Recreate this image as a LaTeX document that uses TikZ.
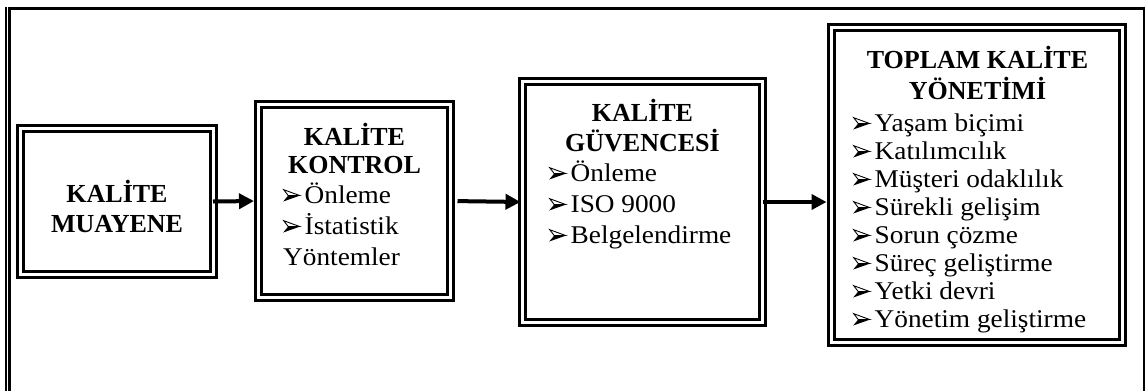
\documentclass[tikz,border=0pt]{standalone}
\usepackage{fontspec}
\setmainfont{Liberation Serif}
\newfontfamily\bodyfont[FakeStretch=1.07]{Liberation Serif}
\usetikzlibrary{arrows.meta}

% arrow-head list marker: outlined upper half, solid lower half
\newsavebox\arrowbullet
\newcommand{\pointer}{\raisebox{1.5pt}{\usebox\arrowbullet}\hspace{4.5pt}}

\tikzset{
  stage/.style={draw, line width=3pt, double, double distance=3pt,
    inner sep=0pt, outer sep=0pt},
  heading/.style={anchor=base, inner sep=0pt},
  items/.style={anchor=base west, inner sep=0pt},
  flow/.style={line width=4pt, -{Triangle[length=15pt,width=15pt]}},
  frame/.style={line cap=butt}
}

\begin{document}
\sbox\arrowbullet{\begin{pgfpicture}
  \pgfsetmiterjoin
  \pgfpathmoveto{\pgfpoint{0pt}{0pt}}
  \pgfpathlineto{\pgfpoint{17pt}{6pt}}
  \pgfpathlineto{\pgfpoint{5pt}{6pt}}
  \pgfpathclose
  \pgfusepath{fill}
  \pgfsetlinewidth{0.9pt}
  \pgfpathmoveto{\pgfpoint{0.5pt}{11.8pt}}
  \pgfpathlineto{\pgfpoint{16.4pt}{6pt}}
  \pgfpathlineto{\pgfpoint{5pt}{6pt}}
  \pgfpathclose
  \pgfusepath{stroke}
\end{pgfpicture}}%
\begin{tikzpicture}[x=1pt,y=-1pt]
\useasboundingbox (0,0) rectangle (1145,391);

% page frame
\draw[frame, line width=1.6pt] (5.8,6.7) -- (5.8,391);
\draw[frame, line width=3pt] (9.5,7) -- (9.5,391);
\draw[frame, line width=3.3pt] (8,8.3) -- (1145,8.3);
\draw[frame, line width=1.6pt] (1144,6.7) -- (1144,391);

% stages
\node[stage, minimum width=192.5pt, minimum height=146pt] (muayene) at (116.75,201.5) {};
\node[stage, minimum width=192pt, minimum height=193pt] (kontrol) at (354.5,201) {};
\node[stage, minimum width=240pt, minimum height=241pt] (guvence) at (642.5,202) {};
\node[stage, minimum width=291pt, minimum height=315pt] (tky) at (977,185) {};

% headings
\node[heading] (t1) at (117,202) {\bfseries\fontsize{26}{30}\selectfont
  \begin{tabular}[t]{@{}c@{}}KALİTE\\MUAYENE\end{tabular}};
\node[heading] (t2) at (354.5,145) {\bfseries\fontsize{26}{28}\selectfont
  \begin{tabular}[t]{@{}c@{}}KALİTE\\KONTROL\end{tabular}};
\node[heading] (t3) at (642.5,121) {\bfseries\fontsize{26}{28}\selectfont
  \begin{tabular}[t]{@{}c@{}}KALİTE\\GÜVENCESİ\end{tabular}};
\node[heading] (t4) at (977.5,68) {\bfseries\fontsize{26}{30}\selectfont
  \begin{tabular}[t]{@{}c@{}}TOPLAM KALİTE\\YÖNETİMİ\end{tabular}};

% item lists
\node[items] (l2) at (283,203) {\bodyfont\fontsize{25.5}{31}\selectfont
  \begin{tabular}[t]{@{}l@{}}\pointer Önleme\\\pointer İstatistik\\Yöntemler\end{tabular}};
\node[items] (l3) at (549,181) {\bodyfont\fontsize{25.5}{31}\selectfont
  \begin{tabular}[t]{@{}l@{}}\pointer Önleme\\\pointer ISO 9000\\\pointer Belgelendirme\end{tabular}};
\node[items] (l4) at (853,131) {\bodyfont\fontsize{25.5}{28}\selectfont
  \begin{tabular}[t]{@{}l@{}}\pointer Yaşam biçimi\\\pointer Katılımcılık\\\pointer Müşteri odaklılık\\
  \pointer Sürekli gelişim\\\pointer Sorun çözme\\\pointer Süreç geliştirme\\
  \pointer Yetki devri\\\pointer Yönetim geliştirme\end{tabular}};

% flow between stages
\draw[flow, shorten >=4.5pt] (muayene.east) -- (kontrol.west);
\draw[flow, shorten <=7pt, shorten >=2pt] (kontrol.east) -- (guvence.west);
\draw[flow, shorten >=5pt] (guvence.east) -- (guvence.east -| tky.west);
\end{tikzpicture}
\end{document}
